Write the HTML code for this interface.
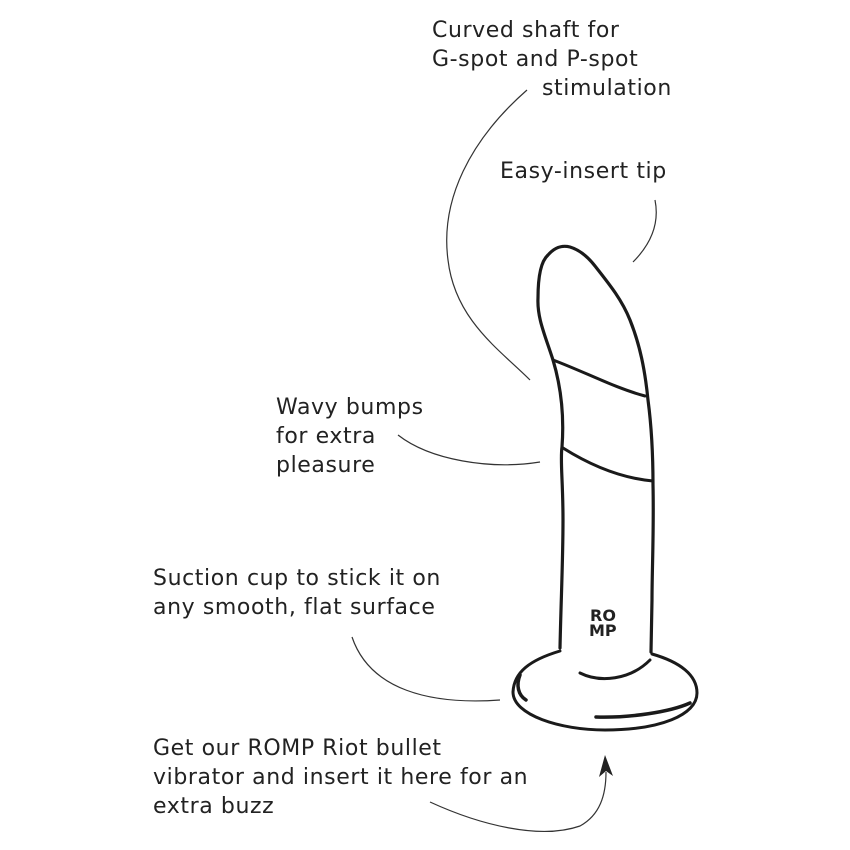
<!DOCTYPE html>
<html><head><style>
body{margin:0;width:850px;height:850px;background:#fff;overflow:hidden}
svg{display:block}
text.t{font-family:"DejaVu Sans","Liberation Sans",sans-serif;font-size:22px;letter-spacing:0.6px;fill:#222}
</style></head><body>
<svg width="850" height="850" viewBox="0 0 850 850">
<g>
<text class="t" x="432" y="37">Curved shaft for</text>
<text class="t" x="432" y="66">G-spot and P-spot</text>
<text class="t" x="542" y="95">stimulation</text>
<text class="t" x="500" y="178">Easy-insert tip</text>
<text class="t" x="276" y="414">Wavy bumps</text>
<text class="t" x="276" y="443">for extra</text>
<text class="t" x="276" y="472">pleasure</text>
<text class="t" x="153" y="585">Suction cup to stick it on</text>
<text class="t" x="153" y="614">any smooth, flat surface</text>
<text class="t" x="153" y="755">Get our ROMP Riot bullet</text>
<text class="t" x="153" y="784">vibrator and insert it here for an</text>
<text class="t" x="153" y="813">extra buzz</text>
</g>
<g fill="none" stroke="#333" stroke-width="1.2">
<path d="M527,90 C470,140 440,200 448,260 C455,320 500,350 530,380"/>
<path d="M655,200 C660,225 650,245 633,262"/>
<path d="M398,435 C430,460 490,470 540,462"/>
<path d="M352,637 C370,690 430,705 500,700"/>
<path d="M430,802 C480,825 540,840 580,826 C600,815 606,795 606,772"/>
</g>
<path d="M605,755 L599,777 L606,771 L613,776 Z" fill="#222"/>
<g fill="none" stroke="#1a1a1a" stroke-width="3.2" stroke-linecap="round">
<path d="M560,648 C561,600 563,560 563,520 C563,480 560,460 562,447 C564,420 562,390 553,360 C545,335 537,318 538,298 C538,280 540,262 548,255 C555,247 562,245 570,247 C580,250 588,257 595,266 C610,285 622,300 630,320 C640,345 645,370 648,400 C652,430 653,455 653,485 C654,530 652,570 652,600 L651,652"/>
<path d="M553,360 C585,372 615,388 645,396" stroke-width="3"/>
<path d="M563,448 C590,465 620,478 653,481" stroke-width="3"/>
<path d="M580,673 C600,683 630,680 650,660" stroke-width="3"/>
<path d="M560,651 C530,660 514,672 513,692 C513,715 560,730 605,730 C660,730 697,715 697,693 C697,675 680,662 652,654" stroke-width="3"/>
<path d="M520,675 C516,685 518,695 526,700" stroke-width="3.5"/>
<path d="M596,717 C630,718 670,712 690,703" stroke-width="3.5"/>
</g>
<text x="590" y="621" style="font-family:'DejaVu Sans',sans-serif;font-weight:bold;font-size:16px;fill:#222">RO</text>
<text x="589" y="636" style="font-family:'DejaVu Sans',sans-serif;font-weight:bold;font-size:16px;fill:#222">MP</text>
</svg>
</body></html>
